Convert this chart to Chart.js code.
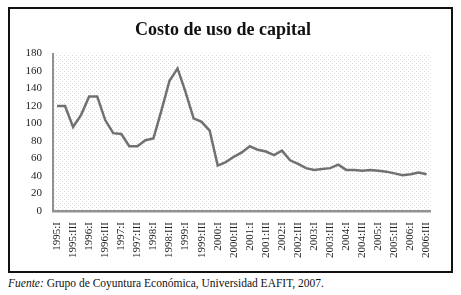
<!DOCTYPE html>
<html lang="es">
<head>
<meta charset="UTF-8">
<title>Costo de uso de capital</title>
<script src="https://cdn.jsdelivr.net/npm/chart.js"></script>
<style>
  body { margin: 0; background: #fff; width: 461px; height: 295px; position: relative; overflow: hidden; }
  #box { position: absolute; left: 8px; top: 7px; width: 441px; height: 262px; border: 2px solid #111; }
  #box canvas { position: absolute; left: 0; top: 0; }
  #fuente { position: absolute; left: 8px; top: 277px; font: 11.5px "Liberation Serif", serif; color: #111; white-space: nowrap; }
</style>
</head>
<body>
<div id="box"><canvas id="chart" width="441" height="262"></canvas></div>
<div id="fuente"><i>Fuente:</i> Grupo de Coyuntura Económica, Universidad EAFIT, 2007.</div>
<script>
const quarters = [
  '1995:I','1995:II','1995:III','1995:IV','1996:I','1996:II','1996:III','1996:IV',
  '1997:I','1997:II','1997:III','1997:IV','1998:I','1998:II','1998:III','1998:IV',
  '1999:I','1999:II','1999:III','1999:IV','2000:I','2000:II','2000:III','2000:IV',
  '2001:I','2001:II','2001:III','2001:IV','2002:I','2002:II','2002:III','2002:IV',
  '2003:I','2003:II','2003:III','2003:IV','2004:I','2004:II','2004:III','2004:IV',
  '2005:I','2005:II','2005:III','2005:IV','2006:I','2006:II','2006:III'
];
const costo = [
  120, 120, 96, 110, 131, 131, 104, 89,
  88, 74, 74, 81, 83, 115, 149, 163,
  136, 106, 102, 92, 52, 56, 62, 67,
  74, 70, 68, 64, 69, 58, 54, 49,
  47, 48, 49, 53, 47, 47, 46, 47,
  46, 45, 43, 41, 42, 44, 42
];
const yTicks = [0, 20, 40, 60, 80, 100, 120, 140, 160, 180];

// dotted plot background
const dotBg = {
  id: 'dotBg',
  beforeDatasetsDraw(chart) {
    const { ctx, chartArea: a } = chart;
    const p = document.createElement('canvas');
    p.width = 4; p.height = 4;
    const pc = p.getContext('2d');
    pc.fillStyle = '#dcdcdc';
    pc.fillRect(0, 0, 1, 1);
    pc.fillRect(2, 2, 1, 1);
    ctx.save();
    ctx.fillStyle = ctx.createPattern(p, 'repeat');
    ctx.fillRect(a.left, a.top, a.right - a.left, a.bottom - a.top);
    ctx.restore();
  }
};

const serif = '"Liberation Serif", "Times New Roman", serif';

new Chart(document.getElementById('chart'), {
  type: 'line',
  data: {
    labels: quarters,
    datasets: [{
      data: costo,
      borderColor: '#717171',
      borderWidth: 2.5,
      pointRadius: 0,
      tension: 0,
      fill: false
    }]
  },
  options: {
    responsive: false,
    animation: false,
    layout: { padding: { left: 3, right: 18, top: 0, bottom: 0 } },
    plugins: {
      legend: { display: false },
      tooltip: { enabled: false },
      title: {
        display: true,
        text: 'Costo de uso de capital',
        color: '#111',
        font: { family: serif, size: 18, weight: 'bold' },
        padding: { top: 11, bottom: 12 }
      }
    },
    scales: {
      x: {
        offset: true,
        grid: { display: false, drawTicks: false },
        border: { display: true, color: '#929292', width: 2.5 },
        ticks: {
          autoSkip: false,
          minRotation: 90,
          maxRotation: 90,
          padding: 11,
          color: '#222',
          font: { family: serif, size: 11 },
          callback: (v, i) => i % 2 === 0 ? quarters[i] : ''
        },
        afterFit: s => { s.height = 60; }
      },
      y: {
        min: 0,
        max: 180,
        afterBuildTicks: s => { s.ticks = yTicks.map(v => ({ value: v })); },
        grid: { display: false, drawTicks: false },
        border: { display: true, color: '#929292', width: 2 },
        ticks: {
          padding: 11,
          color: '#222',
          font: { family: serif, size: 11 }
        },
        afterFit: s => { s.width = 40; }
      }
    }
  },
  plugins: [dotBg]
});
</script>
</body>
</html>
